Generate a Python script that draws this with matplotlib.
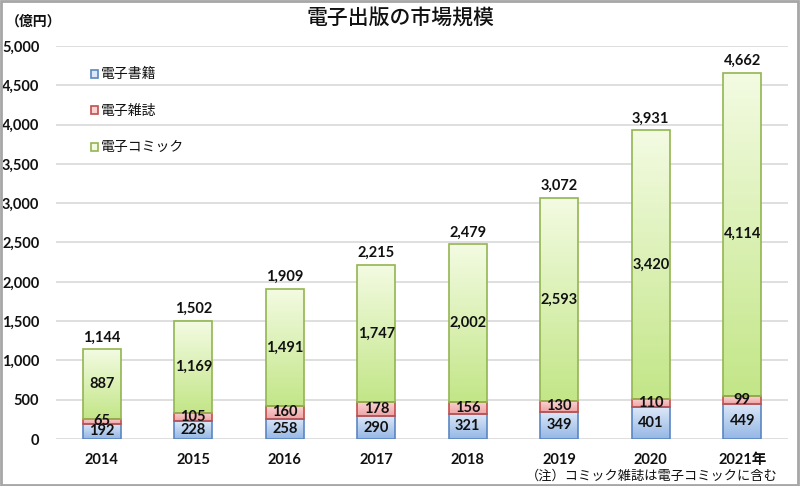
import matplotlib
matplotlib.use("Agg")
import matplotlib.pyplot as plt
import numpy as np
from matplotlib.patches import Rectangle
from matplotlib.colors import LinearSegmentedColormap

plt.rcParams['font.family'] = ['Noto Sans CJK JP', 'DejaVu Sans']
NUMF = ['Lato', 'DejaVu Sans']

years = ['2014', '2015', '2016', '2017', '2018', '2019', '2020', '2021年']
books = [192, 228, 258, 290, 321, 349, 401, 449]
magazines = [65, 105, 160, 178, 156, 130, 110, 99]
comics = [887, 1169, 1491, 1747, 2002, 2593, 3420, 4114]
totals = [1144, 1502, 1909, 2215, 2479, 3072, 3931, 4662]
series_names = ['電子書籍', '電子雑誌', '電子コミック']

fig = plt.figure(figsize=(8.0, 4.86), dpi=100)
ax = fig.add_axes([56/800, 1 - 439/486, (788-56)/800, (439-46)/486])

styles = [
    (('#95B7E5', '#DCE8F8'), '#5B86C2'),
    (('#F0A3A3', '#F9D3D3'), '#C0504D'),
    (('#C3E688', '#F3FBE2'), '#93B552'),
]
x = np.arange(len(years))
w = 0.41
bottoms = np.zeros(len(years))
for vals, ((c_bot, c_top), ec) in zip([books, magazines, comics], styles):
    cmap = LinearSegmentedColormap.from_list('g', [c_bot, c_top])
    for i, v in enumerate(vals):
        b = bottoms[i]
        rect = Rectangle((x[i] - w/2, b), w, v, facecolor='none', edgecolor=ec, lw=1.2, zorder=3)
        ax.add_patch(rect)
        grad = np.linspace(0, 1, 100).reshape(-1, 1)
        im = ax.imshow(grad, cmap=cmap, origin='lower', aspect='auto',
                       extent=(x[i] - w/2, x[i] + w/2, b, b + v), zorder=2, interpolation='bilinear')
        im.set_clip_path(rect)
        ax.text(x[i], b + v/2, f'{v:,}', ha='center', va='center', fontsize=10.5,
                fontweight='bold', color='#111111', zorder=4, family=NUMF)
    bottoms += np.array(vals)

for i, t in enumerate(totals):
    ax.text(x[i], t + 60, f'{t:,}', ha='center', va='bottom', fontsize=10.5,
            fontweight='bold', color='#111111', family=NUMF)

ax.set_xlim(-0.5, 7.5)
ax.set_ylim(0, 5000)
ax.set_yticks(np.arange(0, 5001, 500))
ax.set_yticklabels([f'{v:,}' for v in np.arange(0, 5001, 500)], fontsize=10.5, fontweight='bold',
                   color='#111111', family=NUMF)
ax.set_xticks(x)
ax.set_xticklabels(years, fontsize=10.5, fontweight='bold', color='#111111')
for lab in ax.get_xticklabels():
    lab.set_family(NUMF[:1] + ['Noto Sans CJK JP'])
ax.tick_params(axis='both', length=0)
ax.tick_params(axis='x', pad=10)
ax.tick_params(axis='y', pad=12)
for s in ax.spines.values():
    s.set_visible(False)
ax.grid(axis='y', color='#D9D9D9', lw=1.2, zorder=0)
ax.set_axisbelow(True)

# legend
for k, (name, ((c_bot, c_top), ec)) in enumerate(zip(series_names, styles)):
    yk = 1 - (74 + k*36.5)/486
    fig.patches.append(Rectangle((91/800, yk - 4/486), 7/800, 8/486, transform=fig.transFigure,
                                 facecolor=c_top, edgecolor=ec, lw=1.2))
    fig.text(101/800, yk, name, ha='left', va='center', fontsize=10, color='#111111')

fig.text(0.5, 1 - 19/486, '電子出版の市場規模', ha='center', va='center', fontsize=15, color='#111111',
         fontweight='medium')
fig.text(6/800, 1 - 22/486, '（億円）', ha='left', va='center', fontsize=10, color='#111111',
         fontweight='bold')
fig.text(778/800, 1 - 476/486, '（注）コミック雑誌は電子コミックに含む', ha='right', va='center',
         fontsize=9.5, color='#111111')

fig.patches.append(Rectangle((0.001, 0.002), 0.997, 0.996, transform=fig.transFigure,
                             facecolor='none', edgecolor='#A6A6A6', lw=2))

fig.savefig('out.png', dpi=100)
